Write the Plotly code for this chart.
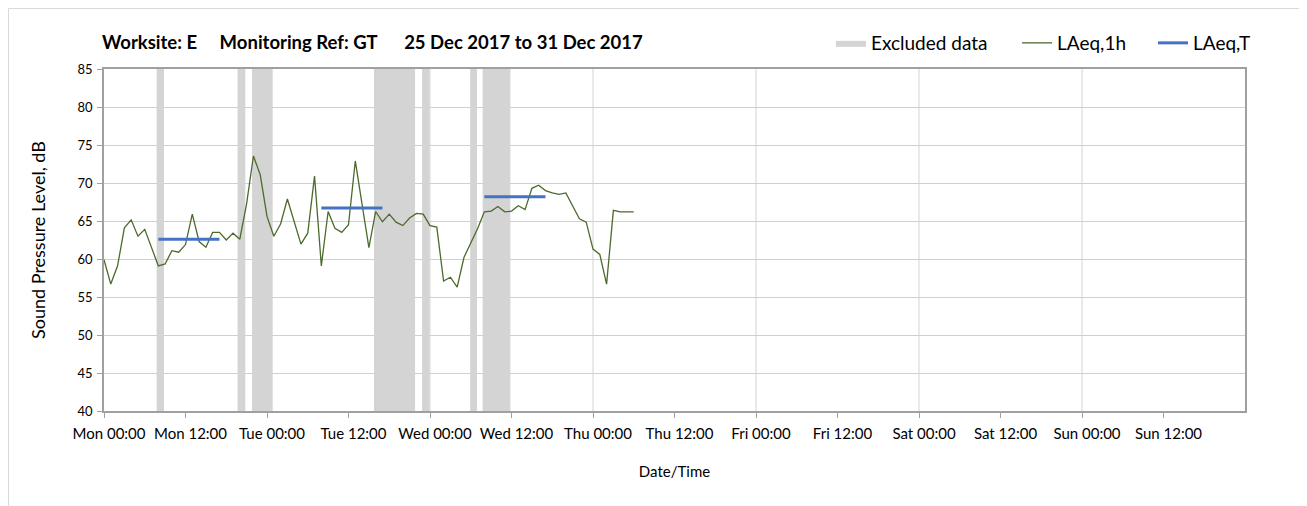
import pandas as pd
import plotly.graph_objects as go

# ---- data ----
start = pd.Timestamp("2017-12-25 00:00")
laeq_1h = [59.9, 56.7, 59.1, 64.1, 65.15, 63.0, 63.9, 61.6, 59.1, 59.35,
           61.1, 60.9, 61.9, 65.9, 62.3, 61.55, 63.5, 63.5, 62.5, 63.4,
           62.6, 67.3, 73.55, 71.1, 65.6, 63.0, 64.6, 67.9, 65.0, 61.95,
           63.4, 70.9, 59.1, 66.25, 64.05, 63.5, 64.5, 72.9, 67.2, 61.5,
           66.25, 64.9, 65.9, 64.85, 64.4, 65.4, 66.0, 65.9, 64.4, 64.2,
           57.1, 57.6, 56.3, 60.2, 62.1, 63.97, 66.2, 66.3, 66.9, 66.2,
           66.3, 67.0, 66.5, 69.3, 69.7, 69.0, 68.7, 68.5, 68.7, 67.0,
           65.3, 64.85, 61.3, 60.6, 56.7, 66.4, 66.2, 66.2, 66.2]
times_1h = pd.date_range(start, periods=len(laeq_1h), freq="h")

laeq_t_start = ["2017-12-25 08:00", "2017-12-26 08:00", "2017-12-27 08:00"]
laeq_t_end = ["2017-12-25 17:00", "2017-12-26 17:00", "2017-12-27 17:00"]
laeq_t = [62.6, 66.7, 68.2]

excl_start = ["2017-12-25 07:45", "2017-12-25 19:40", "2017-12-25 21:48",
              "2017-12-26 15:45", "2017-12-26 22:50", "2017-12-27 05:55",
              "2017-12-27 07:45"]
excl_end = ["2017-12-25 08:50", "2017-12-25 20:48", "2017-12-26 00:50",
            "2017-12-26 21:48", "2017-12-26 23:55", "2017-12-27 06:55",
            "2017-12-27 11:50"]

tick_vals = pd.date_range(start, periods=14, freq="12h")
tick_text = ["Mon 00:00", "Mon 12:00", "Tue 00:00", "Tue 12:00", "Wed 00:00",
             "Wed 12:00", "Thu 00:00", "Thu 12:00", "Fri 00:00", "Fri 12:00",
             "Sat 00:00", "Sat 12:00", "Sun 00:00", "Sun 12:00"]

Y_MIN, Y_MAX = 40, 85
FONT = "Lato"

fig = go.Figure()

# excluded data bands
bx, by = [], []
for s, e in zip(excl_start, excl_end):
    bx += [s, s, e, e, s, None]
    by += [Y_MIN, Y_MAX, Y_MAX, Y_MIN, Y_MIN, None]
fig.add_trace(go.Scatter(x=bx, y=by, fill="toself", fillcolor="#d4d4d4",
                         mode="lines", line=dict(width=0, color="#d4d4d4"),
                         name="Excluded data", hoverinfo="skip",
                         legend="legend"))

fig.add_trace(go.Scatter(x=times_1h, y=laeq_1h, mode="lines",
                         line=dict(color="#4B6A2C", width=1.3),
                         name="LAeq,1h", legend="legend2"))

tx, ty = [], []
for s, e, v in zip(laeq_t_start, laeq_t_end, laeq_t):
    tx += [s, e, None]
    ty += [v, v, None]
fig.add_trace(go.Scatter(x=tx, y=ty, mode="lines",
                         line=dict(color="#4472C4", width=3),
                         name="LAeq,T", legend="legend3"))

leg_common = dict(orientation="h", xanchor="left", y=1.076, yanchor="middle",
                  font=dict(size=19, color="#000000"), itemwidth=30,
                  bgcolor="rgba(0,0,0,0)")

fig.update_layout(
    width=1299, height=498,
    margin=dict(l=96, r=62, t=61, b=95),
    paper_bgcolor="white", plot_bgcolor="white",
    font=dict(family=FONT, color="#000000"),
    showlegend=True,
    legend=dict(x=0.6371, **leg_common),
    legend2=dict(x=0.8002, **leg_common),
    legend3=dict(x=0.9194, **leg_common),
    xaxis=dict(type="date",
               range=[start, start + pd.Timedelta(days=7)],
               tickvals=tick_vals, ticktext=tick_text,
               tickfont=dict(size=15, color="#000000"),
               ticklabelshift=5, ticklabelstandoff=3,
               showgrid=False,
               showline=True, linecolor="#a0a0a0", linewidth=1.5, mirror=True,
               ticks="outside", ticklen=5, tickcolor="#a0a0a0",
               title=dict(text="Date/Time", font=dict(size=15), standoff=26),
               zeroline=False),
    yaxis=dict(range=[Y_MIN, Y_MAX], dtick=5, tick0=40,
               tickfont=dict(size=13, color="#000000"),
               ticklabelstandoff=2,
               showgrid=True, gridcolor="#d0d0d0", gridwidth=1,
               showline=True, linecolor="#a0a0a0", linewidth=1.5, mirror=True,
               ticks="outside", ticklen=5, tickcolor="#a0a0a0",
               title=dict(text="Sound Pressure Level, dB", font=dict(size=18),
                          standoff=27),
               zeroline=False),
    annotations=[dict(text="<b>Worksite: E&nbsp;&nbsp;&nbsp;&nbsp;&nbsp;Monitoring Ref: GT&nbsp;&nbsp;&nbsp;&nbsp;&nbsp;&nbsp;25 Dec 2017 to 31 Dec 2017</b>",
                      xref="paper", yref="paper", x=-0.0035, y=1.079,
                      xanchor="left", yanchor="middle", showarrow=False,
                      font=dict(size=18.5, color="#000000"))],
)

# daily vertical gridlines
for d in range(1, 7):
    t = start + pd.Timedelta(days=d)
    fig.add_shape(type="line", x0=t, x1=t, y0=0, y1=1, xref="x", yref="paper",
                  line=dict(color="#e2e2e2", width=1.5), layer="below")

# outer frame (left and top edges visible)
fig.add_shape(type="rect", xref="paper", yref="paper",
              x0=-0.0837, x1=1.08, y0=-0.35, y1=1.177,
              line=dict(color="#d9d9d9", width=1), layer="below")

fig.write_html("out.html")
